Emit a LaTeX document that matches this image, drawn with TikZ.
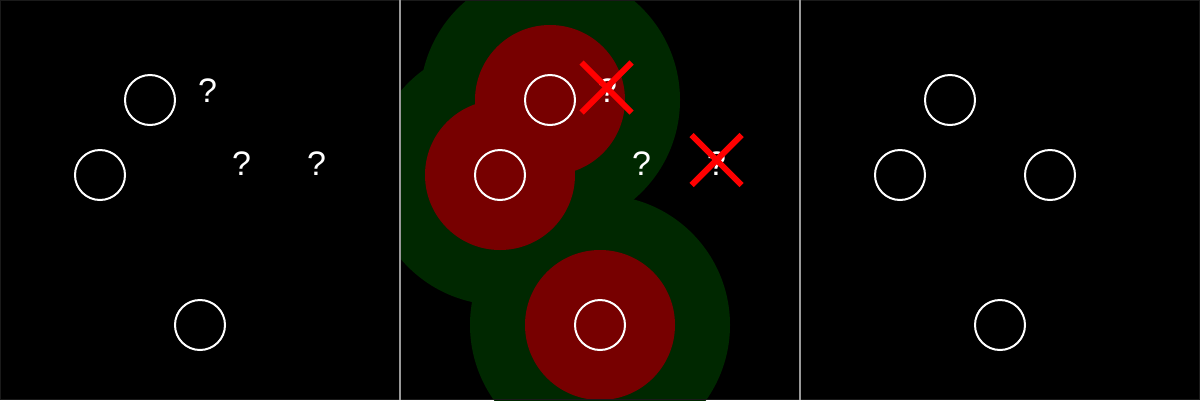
\documentclass[tikz,border=0pt]{standalone}
\usepackage{fontspec}
\setmainfont{Liberation Sans}
\definecolor{bgc}{HTML}{000000}
\definecolor{sepc}{HTML}{999999}
\definecolor{edgec}{HTML}{1A1A1A}
\definecolor{zoneg}{HTML}{002800}
\definecolor{zoner}{HTML}{770000}
\definecolor{crossc}{HTML}{FF0000}
\tikzset{
  pt/.style={circle,draw=white,line width=2pt,minimum size=50pt,inner sep=0pt},
  qm/.style={text=white,font=\fontsize{34}{40}\selectfont,anchor=base,inner sep=0pt},
  sep/.style={draw=sepc,line width=2pt},
  gz/.style={fill=zoneg},
  rz/.style={fill=zoner},
  crossline/.style={draw=crossc,line width=6pt}
}
\begin{document}
\begin{tikzpicture}[x=1pt,y=-1pt]
\fill[bgc] (0,0) rectangle (1200,400);
\useasboundingbox (0,0) rectangle (1200,400);
% panel 2 zones
\begin{scope}
\clip (400,0) rectangle (800,400);
\fill[gz] (550,100) circle (130);
\fill[gz] (500,175) circle (130);
\fill[gz] (600,325) circle (130);
\fill[rz] (550,100) circle (75);
\fill[rz] (500,175) circle (75);
\fill[rz] (600,325) circle (75);
\end{scope}
\draw[draw=edgec,line width=1pt] (0.5,0.5) rectangle (1199.5,399.5);
% separators
\draw[sep] (399.5,0) -- (399.5,400);
\draw[sep] (799.5,0) -- (799.5,400);
% panel 1
\node[pt] (a1) at (150,100) {};
\node[pt] (b1) at (100,175) {};
\node[pt] (c1) at (200,325) {};
\node[qm] (q11) at (207.5,102) {?};
\node[qm] (q12) at (241.5,175) {?};
\node[qm] (q13) at (316.5,175) {?};
% panel 2
\node[pt] (a2) at (550,100) {};
\node[pt] (b2) at (500,175) {};
\node[pt] (c2) at (600,325) {};
\node[qm] (q21) at (607.5,102) {?};
\node[qm] (q22) at (641.5,175) {?};
\node[qm] (q23) at (716.5,175) {?};
\coordinate (x1) at (606.5,87.5);
\coordinate (x2) at (716.5,160);
\draw[crossline] ([shift={(-25,-25)}]x1) -- ([shift={(25,25)}]x1);
\draw[crossline] ([shift={(-25,25)}]x1) -- ([shift={(25,-25)}]x1);
\draw[crossline] ([shift={(-25,-25)}]x2) -- ([shift={(25,25)}]x2);
\draw[crossline] ([shift={(-25,25)}]x2) -- ([shift={(25,-25)}]x2);
% panel 3
\node[pt] (a3) at (950,100) {};
\node[pt] (b3) at (900,175) {};
\node[pt] (d3) at (1050,175) {};
\node[pt] (c3) at (1000,325) {};
\end{tikzpicture}
\end{document}
